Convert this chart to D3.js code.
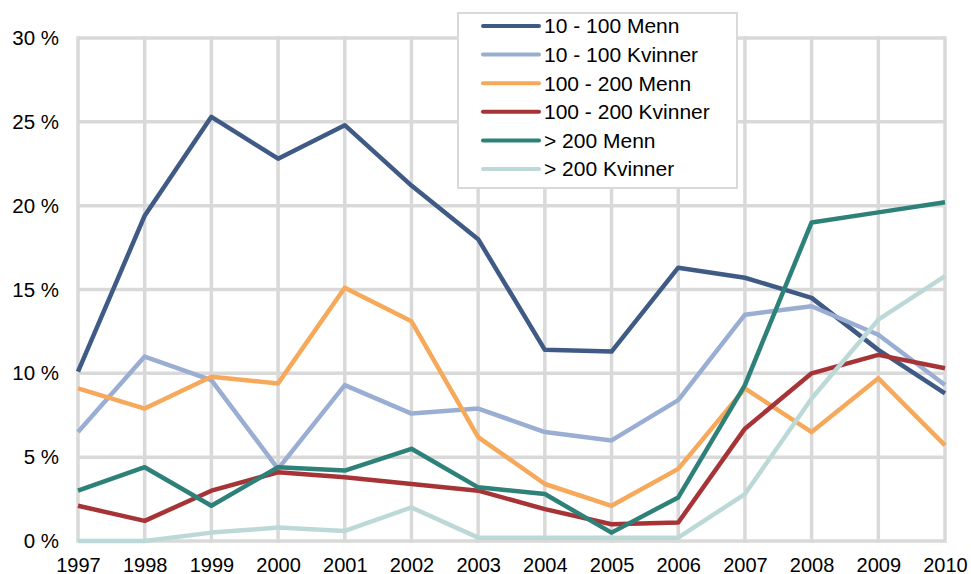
<!DOCTYPE html>
<html>
<head>
  <style>
    body { margin: 0; background: #fff; }
    text { font-family: "Liberation Sans", Arial, sans-serif; fill: #000; }
  </style>
</head>
<body>
<svg width="971" height="574"></svg>
<script src="https://d3js.org/d3.v7.min.js"></script>
<script>

  var years = [1997, 1998, 1999, 2000, 2001, 2002, 2003, 2004, 2005, 2006, 2007, 2008, 2009, 2010]
  var yTicks = [0, 5, 10, 15, 20, 25, 30]

  var menn10 = [10.1, 19.4, 25.3, 22.8, 24.8, 21.2, 18.0, 11.4, 11.3, 16.3, 15.7, 14.5, 11.4, 8.8]
  var kvinner10 = [6.5, 11.0, 9.6, 4.3, 9.3, 7.6, 7.9, 6.5, 6.0, 8.4, 13.5, 14.0, 12.3, 9.3]
  var menn100 = [9.1, 7.9, 9.8, 9.4, 15.1, 13.1, 6.2, 3.4, 2.1, 4.3, 9.1, 6.5, 9.7, 5.7]
  var kvinner100 = [2.1, 1.2, 3.0, 4.1, 3.8, 3.4, 3.0, 1.9, 1.0, 1.1, 6.7, 10.0, 11.1, 10.3]
  var menn200 = [3.0, 4.4, 2.1, 4.4, 4.2, 5.5, 3.2, 2.8, 0.5, 2.6, 9.3, 19.0, 19.6, 20.2]
  var kvinner200 = [0.0, 0.0, 0.5, 0.8, 0.6, 2.0, 0.2, 0.2, 0.2, 0.2, 2.8, 8.5, 13.2, 15.8]

  var series = [
    {name: '10 - 100 Menn', values: menn10, color: '#3f5a85'},
    {name: '10 - 100 Kvinner', values: kvinner10, color: '#9aadd3'},
    {name: '100 - 200 Menn', values: menn100, color: '#f6a95a'},
    {name: '100 - 200 Kvinner', values: kvinner100, color: '#a63437'},
    {name: '> 200 Menn', values: menn200, color: '#2e8178'},
    {name: '> 200 Kvinner', values: kvinner200, color: '#bdd9d7'}
  ]

  var svg = d3.select('svg')

  var x = d3.scaleLinear().domain([1997, 2010]).range([78, 945])
  var y = d3.scaleLinear().domain([0, 30]).range([541, 38])

  // grid
  var grid = svg.append('g')
  grid.selectAll('.hgrid')
    .data(yTicks)
    .enter().append('line')
    .attr('x1', x(1997)).attr('x2', x(2010))
    .attr('y1', function (d) { return y(d) })
    .attr('y2', function (d) { return y(d) })
    .attr('stroke', '#d9d9d9')
    .attr('stroke-width', 3.5)
  grid.selectAll('.vgrid')
    .data(years)
    .enter().append('line')
    .attr('x1', function (d) { return x(d) })
    .attr('x2', function (d) { return x(d) })
    .attr('y1', y(30) - 1.75).attr('y2', y(0) + 1.75)
    .attr('stroke', '#d9d9d9')
    .attr('stroke-width', 3.5)

  // axes
  var yAxis = svg.append('g')
    .attr('transform', 'translate(' + x(1997) + ',0)')
    .call(d3.axisLeft(y).tickValues(yTicks).tickSize(0).tickPadding(19)
      .tickFormat(function (d) { return d + ' %' }))
  yAxis.select('.domain').remove()
  yAxis.selectAll('text').style('font-size', '20.5px').attr('font-family', null)

  var xAxis = svg.append('g')
    .attr('transform', 'translate(0,' + y(0) + ')')
    .call(d3.axisBottom(x).tickValues(years).tickSize(0).tickPadding(17)
      .tickFormat(d3.format('d')))
  xAxis.select('.domain').remove()
  xAxis.selectAll('text').style('font-size', '20px').attr('font-family', null)

  // lines
  var line = d3.line()
    .x(function (d, i) { return x(years[i]) })
    .y(function (d) { return y(d) })

  svg.selectAll('.series')
    .data(series)
    .enter().append('path')
    .attr('fill', 'none')
    .attr('stroke', function (d) { return d.color })
    .attr('stroke-width', 4.5)
    .attr('stroke-linejoin', 'round')
    .attr('d', function (d) { return line(d.values) })

  // legend
  var legend = svg.append('g')
  legend.append('rect')
    .attr('x', 458).attr('y', 13)
    .attr('width', 279).attr('height', 175)
    .attr('fill', '#fff')
    .attr('stroke', '#d9d9d9')
    .attr('stroke-width', 2)

  var item = legend.selectAll('.item')
    .data(series)
    .enter().append('g')
    .attr('transform', function (d, i) { return 'translate(483,' + (26 + i * 28.6) + ')' })
  item.append('line')
    .attr('x1', 0).attr('x2', 56)
    .attr('stroke', function (d) { return d.color })
    .attr('stroke-width', 4)
    .attr('stroke-linecap', 'round')
  item.append('text')
    .attr('x', 61).attr('dy', '0.35em')
    .style('font-size', '21px')
    .text(function (d) { return d.name })

</script>
</body>
</html>
